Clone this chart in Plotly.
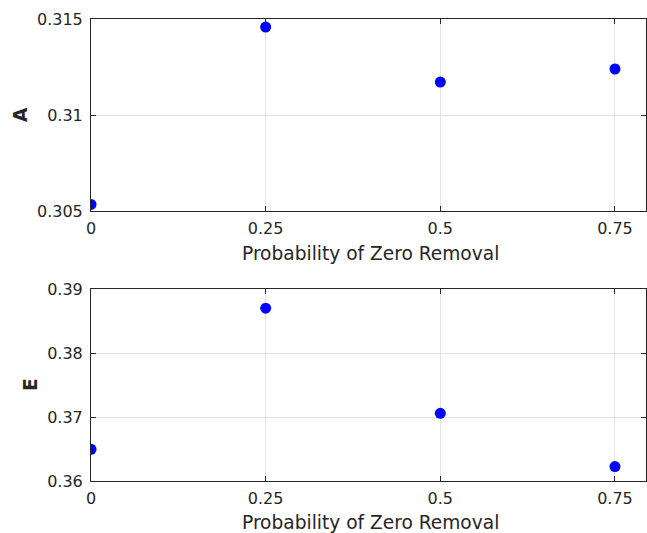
import plotly.graph_objects as go
from plotly.subplots import make_subplots

x_prob = [0, 0.25, 0.5, 0.75]
a_vals = [0.30536, 0.31458, 0.31172, 0.31240]
e_vals = [0.3650, 0.3870, 0.3706, 0.3623]
x_ticks = [0, 0.25, 0.5, 0.75]
x_ticklabels = ["0", "0.25", "0.5", "0.75"]
a_ticks = [0.305, 0.31, 0.315]
a_ticklabels = ["0.305", "0.31", "0.315"]
e_ticks = [0.36, 0.37, 0.38, 0.39]
e_ticklabels = ["0.36", "0.37", "0.38", "0.39"]

W, H = 647, 533
L, R, T, B = 91, 1, 10, 10
FONT = "DejaVu Sans"
TXT = "#262626"

fig = make_subplots(rows=2, cols=1)
fig.add_trace(go.Scatter(x=x_prob, y=a_vals, mode="markers",
                         marker=dict(color="#0000ff", size=11), showlegend=False), row=1, col=1)
fig.add_trace(go.Scatter(x=x_prob, y=e_vals, mode="markers",
                         marker=dict(color="#0000ff", size=11), showlegend=False), row=2, col=1)

def py(p):
    return (H - B - p) / (H - T - B)

def px(p):
    return (p - L) / (W - L - R)

common_x = dict(range=[0, 0.7944], tickvals=x_ticks, ticktext=x_ticklabels,
                showgrid=True, gridcolor="#e3e3e3", gridwidth=1,
                showline=True, linecolor=TXT, linewidth=1, mirror="ticks",
                ticks="inside", ticklen=5, tickcolor=TXT, ticklabelstandoff=2,
                tickfont=dict(family=FONT, size=16, color=TXT),
                zeroline=False, automargin=False)
common_y = dict(showgrid=True, gridcolor="#e3e3e3", gridwidth=1,
                showline=True, linecolor=TXT, linewidth=1, mirror="ticks",
                ticks="inside", ticklen=5, tickcolor=TXT, ticklabelstandoff=4,
                tickfont=dict(family=FONT, size=16, color=TXT),
                zeroline=False, automargin=False)

fig.update_xaxes(**common_x)
fig.update_yaxes(**common_y)
fig.update_yaxes(range=[0.305, 0.315], tickvals=a_ticks, ticktext=a_ticklabels, row=1, col=1)
fig.update_yaxes(range=[0.36, 0.39], tickvals=e_ticks, ticktext=e_ticklabels, row=2, col=1)

lab = dict(family=FONT, size=18.6, color=TXT)
fig.update_layout(
    width=W, height=H,
    margin=dict(l=L, r=R, t=T, b=B),
    plot_bgcolor="white", paper_bgcolor="white",
    font=dict(family=FONT, color=TXT),
    yaxis=dict(domain=[py(211.3), py(19)]),
    yaxis2=dict(domain=[py(481.3), py(289)]),
    annotations=[
        dict(text="Probability of Zero Removal", x=px(370), y=py(253), xref="paper", yref="paper",
             showarrow=False, xanchor="center", yanchor="middle", font=lab),
        dict(text="Probability of Zero Removal", x=px(370), y=py(522), xref="paper", yref="paper",
             showarrow=False, xanchor="center", yanchor="middle", font=lab),
        dict(text="<b>A</b>", x=px(20), y=py(115), xref="paper", yref="paper",
             textangle=-90, showarrow=False, xanchor="center", yanchor="middle", font=lab),
        dict(text="<b>E</b>", x=px(30), y=py(385), xref="paper", yref="paper",
             textangle=-90, showarrow=False, xanchor="center", yanchor="middle", font=lab),
    ],
)

fig.write_html("out.html")
